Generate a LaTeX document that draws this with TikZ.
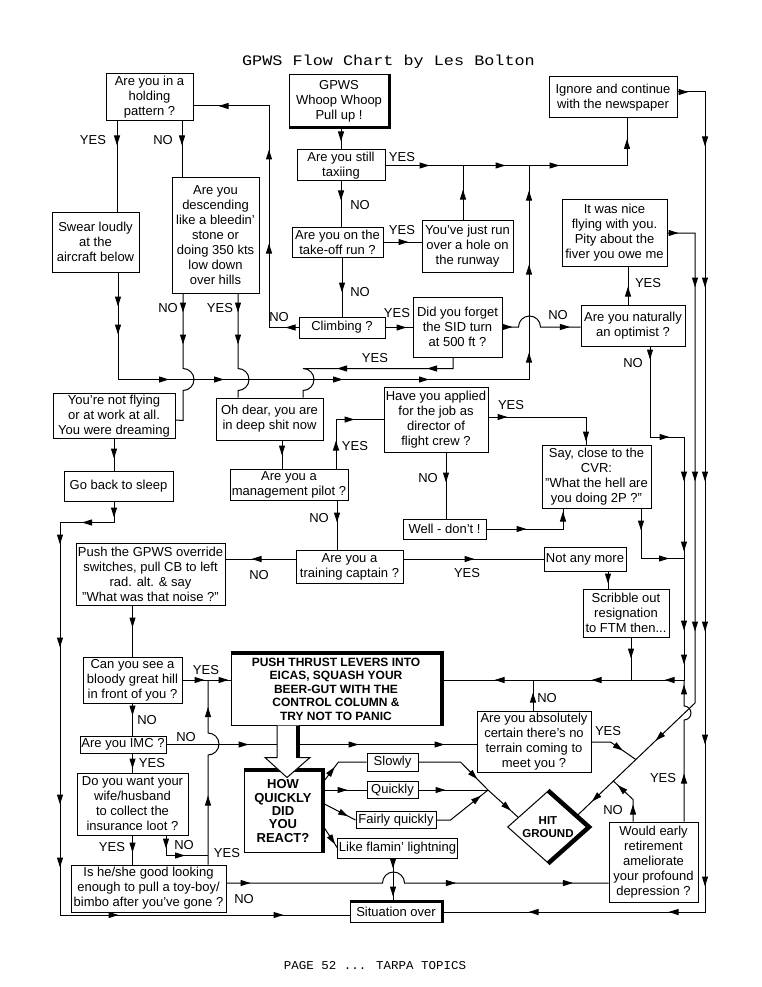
\documentclass[tikz,border=0pt]{standalone}
\usepackage{graphicx}
\usepackage{fontspec}
\setmainfont{Liberation Sans}
\newfontfamily\typew{Liberation Mono}
\usetikzlibrary{arrows.meta,shapes.geometric,decorations.markings,calc}

\tikzset{
	>={Triangle[length=10pt,width=6pt]},
	ln/.style={line width=1pt},
	ar/.style={postaction={decorate,decoration={markings,mark=at position #1 with {\arrow{>}}}}},
	ra/.style={postaction={decorate,decoration={markings,mark=at position #1 with {\arrowreversed{>}}}}},
	box/.style={draw, line width=1pt, align=center, inner sep=1pt, font=\fontsize{13}{15}\selectfont},
	bbox/.style={box, font=\fontsize{12}{13.5}\selectfont\bfseries},
	lbl/.style={inner sep=0pt, font=\fontsize{13}{15}\selectfont},
	thk/.style={line width=#1},
	thk/.default=4pt
}

\begin{document}
\begin{tikzpicture}[x=1pt, y=-1pt]
			%%%%% START %%%%%
			
			\fill[white] (0, 0) rectangle (762, 987);
			\useasboundingbox (0, 0) rectangle (762, 987);
			
			\node[font=\typew\fontsize{14.5}{15}\selectfont] (title) at (388.5, 62) {\scalebox{1.16}[1]{GPWS Flow Chart by Les Bolton}};
			\node[font=\typew\fontsize{12}{13}\selectfont] (footer) at (375, 966) {\scalebox{1.04}[1]{PAGE 52 ... TARPA TOPICS}};
			
			%%%%% BOXES %%%%%
			
			\node[box, minimum width=87pt, minimum height=47pt] (hold) at (149.5, 97.5) {Are you in a\\holding\\pattern ?};
			\node[box, minimum width=100pt, minimum height=52pt] (gpws) at (339, 101) {GPWS\\Whoop Whoop\\Pull up !};
			\node[box, minimum width=128pt, minimum height=41pt] (ignore) at (613, 97.5) {Ignore and continue\\with the newspaper};
			\node[box, minimum width=88pt, minimum height=31pt] (taxi) at (341, 165.5) {Are you still\\taxiing};
			\node[box, minimum width=87pt, minimum height=60pt] (swear) at (95.5, 242) {Swear loudly\\at the\\aircraft below};
			\node[box, minimum width=87pt, minimum height=115pt] (desc) at (215.5, 235.5) {Are you\\descending\\like a bleedin'\\stone or\\doing 350 kts\\low down\\over hills};
			\node[box, minimum width=91pt, minimum height=30pt] (takeoff) at (337.5, 242) {Are you on the\\take-off run ?};
			\node[box, minimum width=91pt, minimum height=52pt] (hole) at (467.5, 246) {You've just run\\over a hole on\\the runway};
			\node[box, minimum width=105pt, minimum height=67pt] (nice) at (614.5, 232.5) {It was nice\\flying with you.\\Pity about the\\fiver you owe me};
			\node[box, minimum width=86pt, minimum height=21pt] (climb) at (342, 327.5) {Climbing ?};
			\node[box, minimum width=89pt, minimum height=60pt] (sid) at (457.5, 327) {Did you forget\\the SID turn\\at 500 ft ?};
			\node[box, minimum width=104pt, minimum height=41pt] (optim) at (633, 325.5) {Are you naturally\\an optimist ?};
			\node[box, minimum width=122pt, minimum height=42pt] (dream) at (114, 416) {You're not flying\\or at work at all.\\You were dreaming};
			\node[box, minimum width=107pt, minimum height=42pt] (ohdear) at (269.5, 419) {Oh dear, you are\\in deep shit now};
			\node[box, minimum width=104pt, minimum height=65pt] (applied) at (436, 419.5) {Have you applied\\for the job as\\director of\\flight crew ?};
			\node[box, minimum width=109pt, minimum height=63pt] (cvr) at (596.5, 476.5) {Say, close to the\\CVR:\\"What the hell are\\you doing 2P ?"};
			\node[box, minimum width=109pt, minimum height=30pt] (sleep) at (118.5, 486) {Go back to sleep};
			\node[box, minimum width=118pt, minimum height=31pt] (mgmt) at (289, 484.5) {Are you a\\management pilot ?};
			\node[box, minimum width=83pt, minimum height=20pt] (dont) at (444.5, 529) {Well - don't !};
			\node[box, minimum width=149pt, minimum height=62pt] (override) at (150.5, 574) {Push the GPWS override\\switches, pull CB to left\\rad. alt. \& say\\"What was that noise ?"};
			\node[box, minimum width=107pt, minimum height=33pt] (train) at (349.5, 566.5) {Are you a\\training captain ?};
			\node[box, minimum width=82pt, minimum height=24pt] (notany) at (585, 559) {Not any more};
			\node[box, minimum width=86pt, minimum height=48pt] (scribble) at (626, 613) {Scribble out\\resignation\\to FTM then...};
			\node[box, minimum width=99pt, minimum height=46pt] (hill) at (132.5, 680) {Can you see a\\bloody great hill\\in front of you ?};
			\node[bbox, minimum width=210pt, minimum height=72pt] (push) at (336, 689) {PUSH THRUST LEVERS INTO\\EICAS, SQUASH YOUR\\BEER-GUT WITH THE\\CONTROL COLUMN \&\\TRY NOT TO PANIC};
			\node[box, minimum width=86pt, minimum height=17pt] (imc) at (123, 744.5) {Are you IMC ?};
			\node[box, minimum width=114pt, minimum height=61pt] (certain) at (534, 741.5) {Are you absolutely\\certain there's no\\terrain coming to\\meet you ?};
			\node[bbox, minimum width=78pt, minimum height=82pt, font=\fontsize{13}{13.4}\selectfont\bfseries] (how) at (283, 811) {HOW\\QUICKLY\\DID\\YOU\\REACT?};
			\node[box, minimum width=51pt, minimum height=18pt] (slowly) at (392.5, 762) {Slowly};
			\node[box, minimum width=51pt, minimum height=17pt] (quickly) at (392.5, 790) {Quickly};
			\node[box, minimum width=80pt, minimum height=17pt] (fairly) at (396, 820) {Fairly quickly};
			\node[box, minimum width=117pt, minimum height=20pt] (lightning) at (397.5, 848) {Like flamin' lightning};
			\node[draw, line width=1pt, diamond, minimum width=81pt, minimum height=72pt, inner sep=0pt] (hit) at (548, 827) {};
			\node[align=center, font=\fontsize{11.5}{13}\selectfont\bfseries] (hittext) at (hit) {HIT\\GROUND};
			\node[box, minimum width=111pt, minimum height=62pt] (wife) at (132.5, 804) {Do you want your\\wife/husband\\to collect the\\insurance loot ?};
			\node[box, minimum width=89pt, minimum height=80pt] (retire) at (653.5, 862) {Would early\\retirement\\ameliorate\\your profound\\depression ?};
			\node[box, minimum width=155pt, minimum height=47pt] (looks) at (148.5, 888.5) {Is he/she good looking\\enough to pull a toy-boy/\\bimbo after you've gone ?};
			\node[box, minimum width=92pt, minimum height=20pt] (over) at (396, 912) {Situation over};
			
			% heavy edges
			\draw[thk=3pt] (gpws.south west) -- (gpws.south east) -- (gpws.north east);
			\draw[thk] (push.north west) -- (push.north east) -- (push.south east);
			\draw[thk] (how.north west) -- (how.north east) -- (how.south east);
			\draw[thk=3.5pt] (over.north west) -- (over.north east) -- (over.south east);
			\draw[thk=4.5pt] (hit.north) -- (hit.east) -- (hit.south);
			
			%%%%% RAILS %%%%%
			
			\coordinate (jtx) at (529, 165.5);
			\coordinate (railR) at (705, 92);
			\coordinate (railB) at (695, 233);
			\coordinate (dtop) at (695, 703);
			\coordinate (dbot) at ($(hit.north)!0.7!(hit.east)$);
			\coordinate (railC1) at (684, 437);
			\coordinate (railC2) at (684, 680);
			\coordinate (jq) at (488, 790);
			
			%%%%% TOP HALF %%%%%
			
			\draw[ln, ar=14pt] (gpws.south -| taxi.north) -- (taxi.north);
			\draw[ln, ar=19pt] (taxi.south) -- (taxi.south |- takeoff.north);
			\draw[ln, ar=35pt] (takeoff.south -| climb.north) -- (climb.north);
			\draw[ln, ar=44pt, ar=120pt, ar=174pt, ar=268pt] (taxi.east) -| ([xshift=14pt]ignore.south);
			\draw[ln, ar=30pt] ([xshift=-4.5pt]hole.north) -- ([xshift=-4.5pt]hole.north |- taxi.east);
			\draw[ln, ar=25pt] (takeoff.east) -- (takeoff.east -| hole.west);
			\draw[ln, ar=21pt] (climb.east) -- (climb.east -| sid.west);
			\draw[ln, ar=13pt, ar=113.5pt, ar=207.5pt, ar=301.5pt] (climb.west) -| (269, 106) -- ([yshift=-8.5pt]hold.east);
			\draw[ln, ar=24pt] ([xshift=-32.5pt]hold.south) -- ([xshift=21.5pt]swear.north);
			\draw[ln, ar=24pt] ([xshift=32.5pt]hold.south) -- ([xshift=-33.5pt]desc.north);
			\draw[ln, ar=34pt, ar=62pt, ar=158pt, ar=213pt, ar=332pt, ar=418pt, ar=545pt, ar=633pt, ar=707pt] ([xshift=22.5pt]swear.south) -- ++(0, 107) -| (jtx);
			\draw[ln, ar=19pt, ar=51pt] ([xshift=-32.5pt]desc.south) -- ++(0, 75) arc (-90:90:11) -- ++(0, 30) -- ([yshift=-4pt]dream.east);
			\draw[ln, ar=19pt, ar=51pt] ([xshift=22.5pt]desc.south) -- ++(0, 75) arc (-90:90:11) -- ([xshift=-31.5pt]ohdear.north);
			\draw[ln, ar=37pt, ar=127pt] ([xshift=-4.5pt]sid.south) -- ++(0, 11) -- ++(-150, 0) arc (-90:90:11) -- ([xshift=33.5pt]ohdear.north);
			\draw[ln, ar=10pt, ar=80pt] (sid.east) -- ++(16, 0) arc (180:360:11) -- (sid.east -| optim.west);
			\draw[ln, ar=18pt] ([xshift=-5pt]optim.north) -- ([xshift=13.5pt]nice.south);
			\draw[ln, ar=11pt, ar=82pt, ar=223pt, ar=417pt, ar=567pt, ar=680pt, ar=822pt, ar=884pt, ar=1024pt] ([yshift=5.5pt]ignore.east) -- (railR) |- (over.east);
			\draw[ln, ar=11pt, ar=82pt, ar=276pt, ar=426pt, ar=552pt, ar=640pt] ([yshift=-0.5pt]nice.east) -- (railB) -- (dtop) -- (dbot);
			
			%%%%% MIDDLE %%%%%
			
			\draw[ln, ar=20pt] (dream.south) -- ([xshift=-4.5pt]sleep.north);
			\draw[ln, ar=15pt] ([xshift=12.5pt]ohdear.south) -- ([xshift=-7pt]mgmt.north);
			\draw[ln, ar=28pt, ar=67.5pt] ([xshift=47pt]mgmt.north) |- (applied.west);
			\draw[ln, ar=19pt, ar=122pt] ([yshift=2.5pt]applied.east) -| ([xshift=-10.5pt]cvr.north);
			\draw[ln, ar=30pt] ([xshift=10pt]applied.south) -- ([xshift=1.5pt]dont.north);
			\draw[ln, ar=40pt, ar=94pt] (dont.east) -| ([xshift=-33.5pt]cvr.south);
			\draw[ln, ar=22pt, ar=78pt] ([xshift=44.5pt]cvr.south) -- ++(0, 50) -- ++(43, 0);
			\draw[ln, ar=13pt, ar=110pt, ar=169pt, ar=239pt, ar=318pt, ar=352pt, ar=387pt, ar=460pt, ar=557pt] ([xshift=17pt]optim.south) |- (railC1) -- (railC2) -- ([yshift=9pt]push.east);
			\draw[ln, ar=22pt] ([xshift=48pt]mgmt.south) -- ([xshift=-12.5pt]train.north);
			\draw[ln, ar=71pt] (train.east |- notany.west) -- (notany.west);
			\draw[ln, ar=44pt] (train.west |- notany.west) -- (override.east |- notany.west);
			\draw[ln, ar=12pt] ([xshift=23pt]notany.south) -- ([xshift=-18pt]scribble.north);
			\draw[ln, ar=21pt] ([xshift=5pt]scribble.south) -- ([xshift=5pt]scribble.south |- railC2);
			\draw[ln, ar=16pt, ar=53pt, ar=97pt, ar=200pt, ar=357pt, ar=420pt, ar=526pt, ar=691pt] ([xshift=-4.5pt]sleep.south) -- ++(0, 21) -- ++(-54, 0) |- ([yshift=-3pt]over.west);
			
			%%%%% BOTTOM HALF %%%%%
			
			\draw[ln, ar=22pt] (hill.north |- override.south) -- (hill.north);
			\draw[ln, ar=22pt, ar=46pt] (hill.east) -- (hill.east -| push.west);
			\draw[ln, ar=12pt] (hill.south) -- (hill.south |- imc.north);
			\draw[ln, ar=15pt] (hill.south |- imc.south) -- (hill.south |- wife.north);
			\draw[ln, ar=17pt] (wife.south) -- (wife.south |- looks.north);
			\draw[ln, ar=13pt, ar=39pt] ([xshift=33.5pt]wife.south) -- ++(0, 20) -- ++(42, 0);
			\draw[ln, ar=82pt, ar=192pt, ar=278pt] (imc.east) -- (imc.east -| certain.west);
			\draw[ln, ar=69pt, ar=170pt] ([xshift=59.5pt]looks.north) -- ++(0, -109.5) arc (90:-90:11) -- ([xshift=59.5pt]looks.north |- hill.east);
			\draw[ln, ar=24pt, ar=242pt, ar=359pt] ([yshift=5.5pt]looks.east) -- ++(156, 0) arc (180:360:11) -- ([yshift=-21pt]retire.west);
			\draw[ln, ar=10pt, ar=38pt] ([xshift=-4.5pt]lightning.south) -- ([xshift=-3pt]over.north);
			\draw[ln, ar=18pt] ([xshift=-1pt]certain.north) -- ([xshift=-1pt]certain.north |- railC2);
			\draw[ln, ar=34pt] ([yshift=-0.5pt]certain.east) -- ++(19, 0) -- ($(dtop)!0.5!(dbot)$);
			\draw[ln, ar=48pt, ar=145pt] ([xshift=30.5pt]retire.north) -- ++(0, -101.5) arc (90:-90:7) -- (railC2);
			\draw[ln, ar=17pt, ar=43pt] ([xshift=-20.5pt]retire.north) -- ++(0, -22) -- ($(dtop)!0.69!(dbot)$);
			
			% reactions
			\draw[ln, ar=20pt] ([yshift=28pt]how.east) -- ++(16, -21) -- (slowly.west);
			\draw[ln, ar=25pt] (how.east |- quickly.west) -- (quickly.west);
			\draw[ln, ar=29pt] ([yshift=8pt]how.east) -- (fairly.west);
			\draw[ln, ar=23pt] ([yshift=-14pt]how.east) -- (lightning.west);
			\draw[ln, ar=66pt, ar=112pt] (slowly.east) -- ++(42, 0) -- (jq) -- ($(hit.west)!0.27!(hit.north)$);
			\draw[ln, ar=27pt] (quickly.east) -- (jq);
			\draw[ln, ar=53pt] (fairly.east) -- ++(14, 0) -- (jq);
			
			% big arrow push -> how
			\draw[ln, fill=white] ([xshift=-59pt]push.south) -- ++(0, 32) -- ++(-12, 0) -- ++(22, 20) -- ++(23, -20) -- ++(-11, 0) -- ++(0, -32);
			\draw[thk] ([xshift=-38pt]push.south) -- ++(0, 32);
			
			%%%%% LABELS %%%%%
			
			\node[lbl] (holdY) at (93, 140) {YES};
			\node[lbl] (holdN) at (163, 140) {NO};
			\node[lbl] (taxiY) at (402, 157) {YES};
			\node[lbl] (taxiN) at (360, 205) {NO};
			\node[lbl] (tkY) at (402, 230) {YES};
			\node[lbl] (tkN) at (360, 292) {NO};
			\node[lbl] (descN) at (168, 308) {NO};
			\node[lbl] (descY) at (220, 308) {YES};
			\node[lbl] (climbN) at (279, 317) {NO};
			\node[lbl] (climbY) at (397, 313) {YES};
			\node[lbl] (sidN) at (558, 315) {NO};
			\node[lbl] (sidY) at (375, 358) {YES};
			\node[lbl] (optY) at (648, 283) {YES};
			\node[lbl] (optN) at (633, 363) {NO};
			\node[lbl] (applY) at (511, 405) {YES};
			\node[lbl] (applN) at (428, 478) {NO};
			\node[lbl] (mgmtY) at (355, 446) {YES};
			\node[lbl] (mgmtN) at (319, 518) {NO};
			\node[lbl] (trainN) at (259, 575) {NO};
			\node[lbl] (trainY) at (467, 573) {YES};
			\node[lbl] (hillY) at (206, 670) {YES};
			\node[lbl] (hillN) at (147, 720) {NO};
			\node[lbl] (imcN) at (186, 737) {NO};
			\node[lbl] (imcY) at (152, 763) {YES};
			\node[lbl] (wifeY) at (112, 847) {YES};
			\node[lbl] (wifeN) at (184, 845) {NO};
			\node[lbl] (looksY) at (227, 853) {YES};
			\node[lbl] (looksN) at (244, 899) {NO};
			\node[lbl] (certN) at (547, 698) {NO};
			\node[lbl] (certY) at (608, 731) {YES};
			\node[lbl] (retY) at (663, 778) {YES};
			\node[lbl] (retN) at (613, 810) {NO};
			
			%%%%% END %%%%%
\end{tikzpicture}
\end{document}
